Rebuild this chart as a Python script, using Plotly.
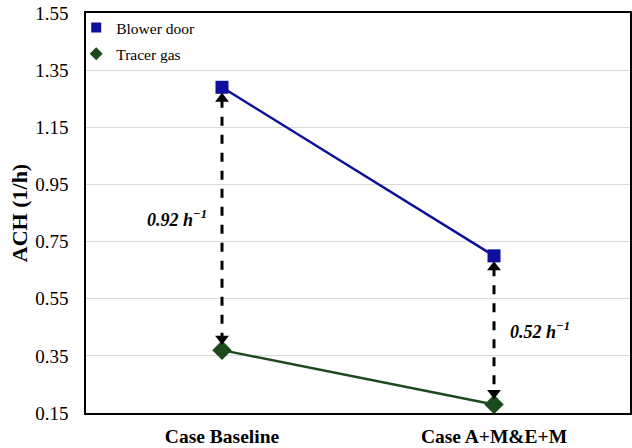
import plotly.graph_objects as go

categories = ["Case Baseline", "Case A+M&E+M"]
blower_door = [1.29, 0.70]
tracer_gas = [0.37, 0.18]
tick_vals = [0.15, 0.35, 0.55, 0.75, 0.95, 1.15, 1.35, 1.55]
diff_labels = ["0.92 h<sup>−1</sup>", "0.52 h<sup>−1</sup>"]

BLUE = "#0E0E9C"
GREEN = "#1D4A1D"
FONT = "Liberation Serif, Times New Roman, serif"

fig = go.Figure()

fig.add_trace(go.Scatter(
    x=categories, y=blower_door, mode="lines+markers", name="Blower door",
    line=dict(color=BLUE, width=2.5),
    marker=dict(symbol="square", size=13, color=BLUE),
    showlegend=False,
))
fig.add_trace(go.Scatter(
    x=categories, y=tracer_gas, mode="lines+markers", name="Tracer gas",
    line=dict(color=GREEN, width=2.5),
    marker=dict(symbol="diamond", size=15, color=GREEN),
    showlegend=False,
))
# legend-only entries (marker only)
fig.add_trace(go.Scatter(
    x=[None], y=[None], mode="markers", name="Blower door",
    marker=dict(symbol="square", size=10, color=BLUE), legendgroup="a",
))
fig.add_trace(go.Scatter(
    x=[None], y=[None], mode="markers", name="Tracer gas",
    marker=dict(symbol="diamond", size=10, color=GREEN), legendgroup="b",
))

gap = 0.04
for i, cat in enumerate(categories):
    top = blower_door[i] - gap
    bot = tracer_gas[i] + gap
    # dashed shaft
    fig.add_trace(go.Scatter(
        x=[cat, cat], y=[top, bot], mode="lines",
        line=dict(color="black", width=3, dash="dash"),
        showlegend=False, hoverinfo="skip",
    ))
    # arrow heads
    fig.add_trace(go.Scatter(
        x=[cat, cat], y=[top, bot], mode="markers",
        marker=dict(symbol=["triangle-up", "triangle-down"], size=12, color="black"),
        showlegend=False, hoverinfo="skip",
    ))
    mid = (blower_door[i] + tracer_gas[i]) / 2
    fig.add_annotation(
        x=cat, y=mid, xref="x", yref="y", showarrow=False,
        text="<b><i>" + diff_labels[i] + "</i></b>",
        xanchor="right" if i == 0 else "left",
        xshift=-13 if i == 0 else 14,
        font=dict(family=FONT, size=18, color="black"),
    )

fig.update_layout(
    width=632, height=448,
    margin=dict(l=86, r=2, t=13, b=35),
    paper_bgcolor="white", plot_bgcolor="white",
    font=dict(family=FONT, size=19, color="black"),
    legend=dict(x=-0.018, y=1.005, xanchor="left", yanchor="top",
                bgcolor="rgba(0,0,0,0)", font=dict(family=FONT, size=15.5),
                tracegroupgap=3, itemwidth=30),
    xaxis=dict(
        type="category", range=[-0.5, 1.5], automargin=False,
        showline=True, linecolor="black", linewidth=1.5, mirror=True,
        showgrid=False, ticks="",
        tickfont=dict(family=FONT, size=19.5, weight="bold"),
        ticklabelstandoff=5,
    ),
    yaxis=dict(
        range=[0.15, 1.55], tickvals=tick_vals, automargin=False,
        tickformat=".2f",
        showline=True, linecolor="black", linewidth=1.5, mirror=True,
        showgrid=True, gridcolor="#D9D9D9", gridwidth=1,
        zeroline=False, ticks="",
        tickfont=dict(family=FONT, size=19),
        ticklabelstandoff=12,
        title=dict(text="<b>ACH (1/h)</b>", font=dict(family=FONT, size=22), standoff=2),
    ),
)

fig.write_html("out.html", config={"displayModeBar": False},
               post_script="document.body.style.margin='0';")
